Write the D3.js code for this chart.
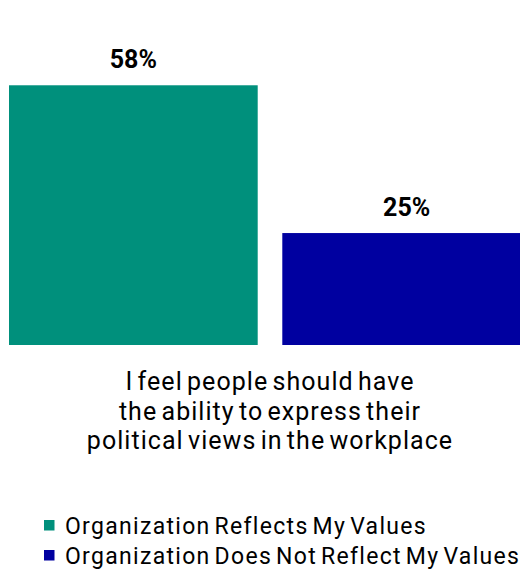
<!DOCTYPE html>
<html>
<head>
<meta charset="utf-8">
<script src="https://cdn.jsdelivr.net/npm/d3@7"></script>
<style>
  body { margin: 0; background: #fff; overflow: hidden; }
  svg { display: block; font-family: Roboto, "Liberation Sans", sans-serif; }
</style>
</head>
<body>
<script>
// data
var series = ["Organization Reflects My Values", "Organization Does Not Reflect My Values"];
var values = [58, 25];
var colors = ["#00907c", "#0000a0"];
var categoryLines = ["I feel people should have", "the ability to express their", "political views in the workplace"];

var width = 520, height = 579;

var svg = d3.select("body").append("svg")
    .attr("width", width)
    .attr("height", height);

// bars are wider than the window, the second one gets cut on the right
var xScale = d3.scaleBand().domain(series).range([9, 531]).paddingInner(0.09).paddingOuter(0);
var yScale = d3.scaleLinear().domain([0, 60]).range([345, 345 - 60 * 4.478]);
var color = d3.scaleOrdinal().domain(series).range(colors);

svg.selectAll(".bar")
    .data(series)
  .enter().append("rect")
    .attr("class", "bar")
    .attr("x", function(d) { return xScale(d); })
    .attr("y", function(d, i) { return yScale(values[i]); })
    .attr("width", xScale.bandwidth())
    .attr("height", function(d, i) { return yScale(0) - yScale(values[i]); })
    .style("fill", function(d) { return color(d); });

svg.selectAll(".val")
    .data(series)
  .enter().append("text")
    .attr("class", "val")
    .attr("x", function(d) { return xScale(d) + xScale.bandwidth() / 2; })
    .attr("y", function(d, i) { return yScale(values[i]) - 17; })
    .attr("text-anchor", "middle")
    .style("font-size", "25px")
    .style("font-weight", "bold")
    .style("fill", "#000")
    .text(function(d, i) { return values[i] + "%"; });

// category label under the group (loose letters, tight word gaps like the original)
var cx = (xScale.range()[0] + xScale.range()[1]) / 2;
svg.selectAll(".cat")
    .data(categoryLines)
  .enter().append("text")
    .attr("class", "cat")
    .attr("x", cx)
    .attr("y", function(d, i) { return 390 + i * 29.5; })
    .attr("text-anchor", "middle")
    .style("font-size", "25px")
    .style("letter-spacing", "1.05px")
    .style("word-spacing", "-3px")
    .style("fill", "#000")
    .text(function(d) { return d; });

// legend
var legend = svg.selectAll(".legend")
    .data(series)
  .enter().append("g")
    .attr("class", "legend")
    .attr("transform", function(d, i) { return "translate(44," + (520 + i * 30) + ")"; });

legend.append("rect")
    .attr("width", 10.5)
    .attr("height", 10.5)
    .style("fill", function(d) { return color(d); });

legend.append("text")
    .attr("x", 21)
    .attr("y", 13.5)
    .style("font-size", "23px")
    .style("letter-spacing", "1.3px")
    .style("word-spacing", "-3px")
    .style("fill", "#000")
    .text(function(d) { return d; });
</script>
</body>
</html>
